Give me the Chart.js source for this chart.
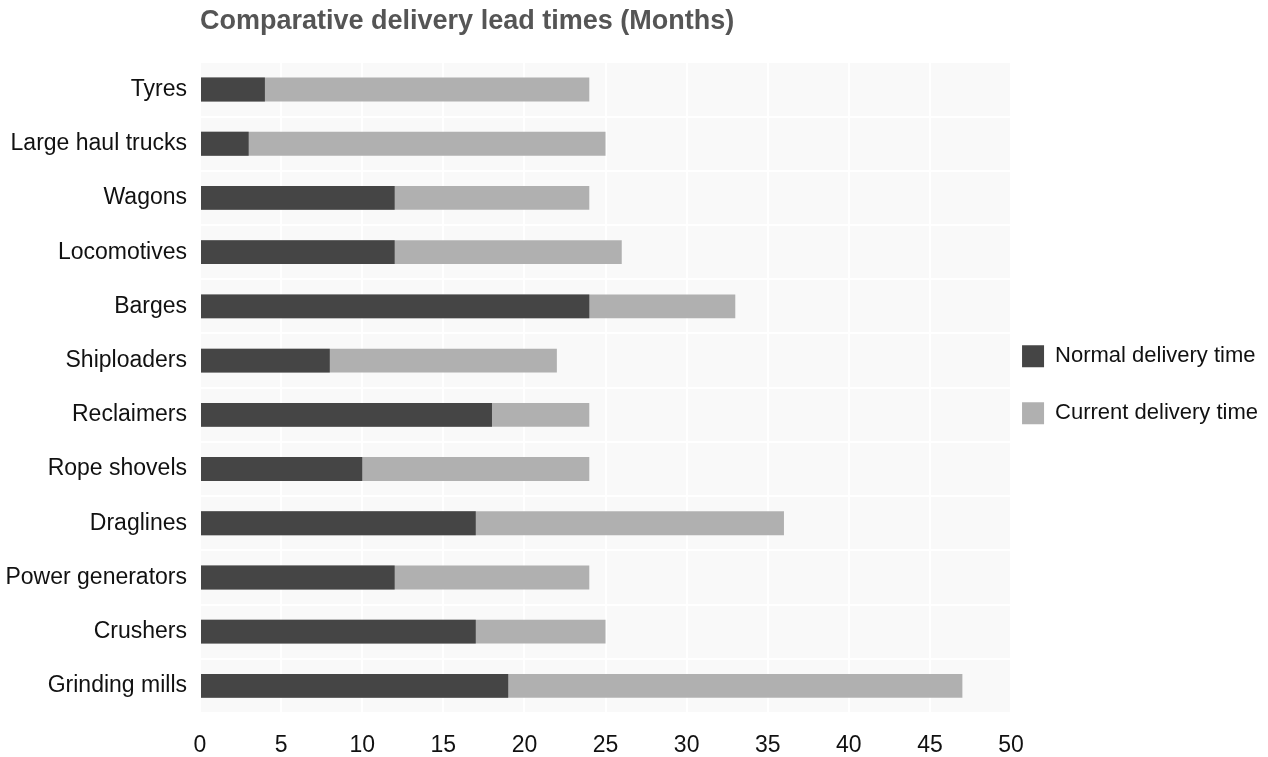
<!DOCTYPE html>
<html><head><meta charset="utf-8">
<script src="https://cdn.jsdelivr.net/npm/chart.js@4.4.0/dist/chart.umd.min.js"></script>
<style>html,body{margin:0;padding:0;background:#fff}#wrap{width:1268px;height:757px;position:relative}</style>
</head><body><div id="wrap"><canvas id="c"></canvas></div>
<script>
const categories = ['Tyres','Large haul trucks','Wagons','Locomotives','Barges','Shiploaders','Reclaimers','Rope shovels','Draglines','Power generators','Crushers','Grinding mills'];
const normalDelivery = [4, 3, 12, 12, 24, 8, 18, 10, 17, 12, 17, 19];
const currentDelivery = [24, 25, 24, 26, 33, 22, 24, 24, 36, 24, 25, 47];
const seriesNames = ['Normal delivery time', 'Current delivery time'];
const xTickMin = 0, xTickMax = 50, xTickStep = 5;
const titleText = 'Comparative delivery lead times (Months)';

Chart.defaults.font.family = '"Liberation Sans", Arial, Helvetica, sans-serif';
Chart.defaults.color = '#111';

const plotBg = {
  id: 'plotBg',
  beforeDraw(chart) {
    const a = chart.chartArea, ctx = chart.ctx;
    ctx.save();
    ctx.fillStyle = '#f9f9f9';
    ctx.fillRect(a.left, a.top, a.right - a.left, a.bottom - a.top);
    ctx.restore();
  }
};

new Chart(document.getElementById('c'), {
  type: 'bar',
  data: {
    labels: categories,
    datasets: [
      { label: seriesNames[0], data: normalDelivery, backgroundColor: '#454545', order: 0 },
      { label: seriesNames[1], data: currentDelivery, backgroundColor: '#b0b0b0', order: 1 }
    ]
  },
  options: {
    indexAxis: 'y',
    responsive: true,
    maintainAspectRatio: false,
    animation: false,
    grouped: false,
    categoryPercentage: 1,
    barPercentage: 0.44,
    layout: { padding: { left: 0, right: 0, top: 0, bottom: 0 } },
    scales: {
      x: {
        min: xTickMin, max: xTickMax,
        ticks: { stepSize: xTickStep, font: { size: 23 }, color: '#111', padding: 19 },
        grid: { color: '#ffffff', lineWidth: 2, drawTicks: false },
        border: { display: false },
        afterFit(scale) { scale.height = 44; }
      },
      y: {
        ticks: { font: { size: 23 }, color: '#111', padding: 13 },
        grid: { color: '#ffffff', lineWidth: 2, drawTicks: false, offset: true },
        border: { display: false },
        afterFit(scale) { scale.width = 200; }
      }
    },
    plugins: {
      title: {
        display: true, text: titleText, align: 'start', fullSize: false,
        color: '#555', font: { size: 27, weight: 'bold' },
        padding: { top: 5, bottom: 25 }
      },
      legend: {
        position: 'right', fullSize: false, align: 'center',
        title: { display: true, text: '', font: { size: 18, lineHeight: 1 }, padding: 0 },
        labels: {
          boxWidth: 22, boxHeight: 22, padding: 11, color: '#111',
          font: { size: 22, lineHeight: 46 / 22 },
          generateLabels(chart) {
            return chart.data.datasets.map((ds, i) => ({
              text: [ds.label], fillStyle: ds.backgroundColor, strokeStyle: ds.backgroundColor,
              lineWidth: 0, hidden: !chart.isDatasetVisible(i), datasetIndex: i, fontColor: '#111'
            }));
          }
        }
      },
      tooltip: { enabled: false }
    }
  },
  plugins: [plotBg]
});
</script></body></html>
